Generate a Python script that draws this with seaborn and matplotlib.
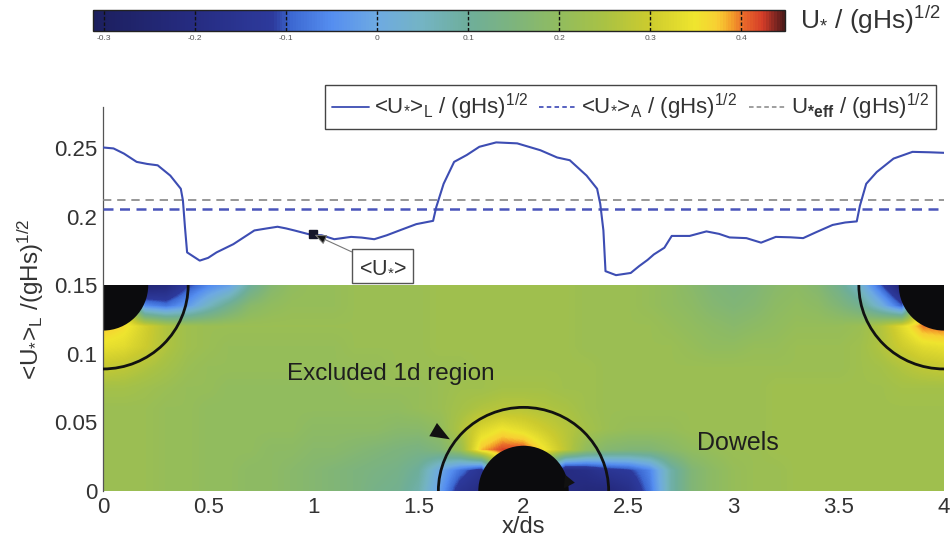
import numpy as np
import matplotlib
matplotlib.use('Agg')
import matplotlib.pyplot as plt
import seaborn as sns
from matplotlib.colors import LinearSegmentedColormap, Normalize
from matplotlib.patches import Ellipse, Rectangle
from matplotlib.lines import Line2D
from matplotlib.cm import ScalarMappable

# ---------------- data ----------------
x_line = [0.0, 0.05, 0.10, 0.16, 0.21, 0.26, 0.32, 0.37, 0.38, 0.39, 0.40, 0.46, 0.50,
          0.54, 0.58, 0.62, 0.67, 0.72, 0.78, 0.83, 0.87, 0.91, 0.99, 1.04, 1.10,
          1.18, 1.23, 1.29, 1.35, 1.41, 1.49, 1.57, 1.585, 1.62, 1.67, 1.73, 1.79,
          1.87, 1.97, 2.08, 2.16, 2.22, 2.30, 2.35, 2.365, 2.38, 2.39, 2.44, 2.51,
          2.55, 2.59, 2.62, 2.67, 2.705, 2.79, 2.87, 2.93, 2.98, 3.06, 3.13, 3.20,
          3.27, 3.33, 3.39, 3.47, 3.53, 3.585, 3.60, 3.63, 3.68, 3.76, 3.85, 3.93, 4.0]
u_line = [0.2505, 0.2498, 0.246, 0.240, 0.2385, 0.2375, 0.230, 0.2204, 0.212, 0.192,
          0.174, 0.168, 0.170, 0.174, 0.177, 0.180, 0.185, 0.190, 0.1915, 0.1927,
          0.1915, 0.190, 0.1868, 0.1865, 0.1836, 0.1853, 0.1848, 0.1836, 0.1865,
          0.190, 0.1946, 0.197, 0.207, 0.224, 0.240, 0.245, 0.251, 0.2542, 0.2535,
          0.2485, 0.2432, 0.2412, 0.230, 0.2204, 0.2094, 0.190, 0.1603, 0.1574,
          0.159, 0.164, 0.1685, 0.1725, 0.1774, 0.186, 0.186, 0.1893, 0.1875,
          0.1849, 0.1844, 0.1811, 0.1853, 0.1850, 0.1844, 0.1886, 0.194, 0.1958,
          0.1966, 0.208, 0.224, 0.2326, 0.2424, 0.2473, 0.2470, 0.2466]
ua_level = 0.2057      # <U*>_A
ueff_level = 0.2123    # U*eff
marker_x = [1.0]
marker_y = [0.1873]

# field U*/(gHs)^1/2 (x100), rows from y=0.15 (top) to y=0, columns x=0..4 step 0.1
field_rows = [
    [36, 30, -25, -22, -12, -6, -2, 10, 17, 20, 21, 21, 22, 22, 22, 22, 23, 23, 23, 23, 23, 23, 23, 22, 22, 22, 21, 20, 18, 16, 15, 16, 18, 19, 17, 12, 4, -10, -25, -10, 40],
    [38, 35, -5, -8, -3, 5, 12, 18, 20, 21, 21, 21, 22, 22, 22, 22, 23, 23, 23, 23, 23, 23, 23, 22, 22, 22, 21, 20, 19, 17, 16, 17, 19, 20, 19, 16, 12, 2, -10, 38, 41],
    [38, 36, 31, 26, 23, 22, 22, 22, 22, 22, 22, 22, 22, 22, 22, 22, 23, 23, 23, 23, 23, 23, 23, 22, 22, 22, 22, 21, 20, 19, 18, 19, 20, 21, 21, 21, 22, 26, 33, 40, 41],
    [34, 33, 30, 26, 23, 22, 21, 21, 21, 21, 21, 21, 22, 22, 22, 22, 23, 23, 23, 23, 23, 23, 23, 22, 22, 22, 22, 22, 21, 20, 20, 21, 21, 22, 22, 22, 23, 26, 30, 33, 34],
    [29, 28, 26, 24, 22, 21, 21, 21, 21, 21, 21, 21, 21, 21, 22, 22, 22, 22, 23, 23, 23, 23, 23, 23, 22, 22, 22, 22, 22, 22, 22, 22, 22, 22, 22, 22, 23, 24, 26, 28, 29],
    [24, 24, 23, 22, 21, 21, 20, 20, 20, 20, 20, 20, 21, 21, 21, 21, 22, 23, 23, 24, 24, 24, 23, 23, 22, 22, 22, 22, 22, 22, 22, 22, 23, 23, 23, 23, 23, 23, 24, 24, 24],
    [22, 22, 22, 21, 21, 20, 20, 20, 20, 20, 20, 20, 20, 20, 20, 21, 22, 24, 26, 27, 27, 26, 25, 23, 22, 22, 22, 22, 22, 22, 22, 22, 23, 23, 23, 23, 23, 23, 23, 23, 23],
    [22, 22, 22, 21, 21, 20, 20, 20, 20, 20, 19, 19, 19, 19, 18, 18, 20, 26, 32, 35, 33, 30, 27, 24, 22, 21, 21, 21, 22, 22, 22, 22, 23, 23, 23, 23, 23, 23, 23, 23, 23],
    [22, 22, 22, 21, 21, 20, 20, 20, 19, 19, 18, 18, 17, 16, 15, 14, 16, 22, 38, 42, 42, 35, 28, 20, 17, 16, 16, 18, 20, 21, 22, 22, 23, 23, 23, 23, 23, 23, 23, 23, 23],
    [22, 22, 22, 21, 21, 20, 20, 19, 19, 18, 17, 16, 15, 14, 13, 10, 0, -8, -15, 30, 30, 10, -20, -18, -14, -12, -6, 8, 16, 19, 21, 22, 22, 23, 23, 23, 23, 23, 23, 23, 23],
    [22, 22, 22, 21, 21, 20, 20, 19, 19, 18, 17, 16, 15, 13, 12, 8, -2, -15, -20, 0, 0, -10, -20, -22, -22, -18, -8, 8, 16, 19, 21, 22, 22, 23, 23, 23, 23, 23, 23, 23, 23],
]
field_x_range = [0.0, 4.0]
field_y_range = [0.0, 0.15]

dowel_x = [0.0, 2.0, 4.0]
dowel_y = [0.15, 0.0, 0.15]
dowel_rx, dowel_ry = 0.215, 0.033
excl_rx, excl_ry = 0.405, 0.061

x_ticks = [0, 0.5, 1, 1.5, 2, 2.5, 3, 3.5, 4]
x_ticklabels = ['0', '0.5', '1', '1.5', '2', '2.5', '3', '3.5', '4']
y_ticks = [0, 0.05, 0.1, 0.15, 0.2, 0.25]
y_ticklabels = ['0', '0.05', '0.1', '0.15', '0.2', '0.25']

cbar_min, cbar_max = -0.312, 0.448
cbar_ticks = [-0.3, -0.2, -0.1, 0, 0.1, 0.2, 0.3, 0.4]
cbar_ticklabels = ['-0.3', '-0.2', '-0.1', '0', '0.1', '0.2', '0.3', '0.4']
cmap_stops = [-0.312, -0.2, -0.115, -0.095, -0.05, 0.0, 0.05, 0.1, 0.15, 0.2, 0.25,
              0.3, 0.35, 0.375, 0.39, 0.405, 0.425, 0.44, 0.448]
cmap_colors = ['#1c1f5e', '#262c82', '#2d3a9c', '#3c68d2', '#558ef0', '#6eaae2',
               '#74b4c3', '#6eae9b', '#7db47d', '#91bc5f', '#a9c244', '#cccb2e',
               '#efe52e', '#f8cf33', '#f3a02a', '#e8672a', '#d43c28', '#7a2420',
               '#501a18']

# ---------------- style ----------------
sns.set_theme(style='white')
plt.rcParams.update({
    'font.family': ['Liberation Sans', 'DejaVu Sans'],
    'mathtext.fontset': 'custom',
    'mathtext.rm': 'Liberation Sans',
    'mathtext.it': 'Liberation Sans:italic',
    'mathtext.bf': 'Liberation Sans:bold',
    'axes.unicode_minus': False,
})
text_col = '#333333'

fig = plt.figure(figsize=(9.52, 5.46), dpi=100)
ax = fig.add_axes([0.1082, 0.1007, 0.8834, 0.7033])

norm = Normalize(cbar_min, cbar_max)
cmap = LinearSegmentedColormap.from_list(
    'uscale', list(zip([norm(v) for v in cmap_stops], cmap_colors)))

# ---------------- field image ----------------
Z = np.array(field_rows, dtype=float) / 100.0
ny, nx = Z.shape
dx = (field_x_range[1] - field_x_range[0]) / (nx - 1)
dy = (field_y_range[1] - field_y_range[0]) / (ny - 1)
clip_rect = Rectangle((field_x_range[0], field_y_range[0]),
                      field_x_range[1] - field_x_range[0],
                      field_y_range[1] - field_y_range[0],
                      transform=ax.transData, fill=False)
im = ax.imshow(Z, cmap=cmap, norm=norm, origin='upper', aspect='auto',
               interpolation='bilinear', zorder=1,
               extent=(field_x_range[0] - dx / 2, field_x_range[1] + dx / 2,
                       field_y_range[0] - dy / 2, field_y_range[1] + dy / 2))
im.set_clip_path(clip_rect)

for cx, cy in zip(dowel_x, dowel_y):
    d = Ellipse((cx, cy), 2 * dowel_rx, 2 * dowel_ry, facecolor='#0b0b0d',
                edgecolor='none', zorder=2)
    ax.add_patch(d)
    d.set_clip_path(clip_rect)
    e = Ellipse((cx, cy), 2 * excl_rx, 2 * excl_ry, facecolor='none',
                edgecolor='#111111', lw=2.0, zorder=3)
    ax.add_patch(e)
    e.set_clip_path(clip_rect)

# ---------------- line plot ----------------
line_col = '#3d4db3'
sns.lineplot(x=x_line, y=u_line, ax=ax, color=line_col, lw=1.5, sort=False,
             estimator=None, zorder=4, legend=False)
ax.axhline(ua_level, color='#4a55bb', lw=1.8, dashes=(4, 2.6), zorder=3)
ax.axhline(ueff_level, color='#858585', lw=1.2, dashes=(5, 3.5), zorder=3)
ax.plot(marker_x, marker_y, 's', color='#15152a', ms=6, zorder=5)

ax.annotate(r'<U$_{*}$>', xy=(marker_x[0], marker_y[0]), xytext=(1.33, 0.164),
            ha='center', va='center', fontsize=15.5, color=text_col, zorder=6,
            bbox=dict(boxstyle='square,pad=0.3', fc='white', ec='#555555', lw=1),
            arrowprops=dict(arrowstyle='-|>,head_length=0.6,head_width=0.25',
                            fc='#111111', ec='#777777', lw=0.8,
                            shrinkA=0, shrinkB=1, mutation_scale=12))

ax.text(0.875, 0.085, 'Excluded 1d region', fontsize=17.5, color='#1e1e1e',
        va='center', ha='left', zorder=6)
ax.annotate('', xy=(1.658, 0.037), xytext=(1.41, 0.059), zorder=6,
            arrowprops=dict(arrowstyle='-|>,head_length=1.4,head_width=0.55',
                            fc='#111111', ec='none', mutation_scale=10,
                            shrinkA=0, shrinkB=0))
ax.text(2.825, 0.035, 'Dowels', fontsize=18, color='#1e1e1e',
        va='center', ha='left', zorder=6)
ax.annotate('', xy=(2.25, 0.006), xytext=(2.12, 0.008), zorder=6,
            arrowprops=dict(arrowstyle='-|>,head_length=0.75,head_width=0.5',
                            fc='#111111', ec='none', mutation_scale=10,
                            shrinkA=0, shrinkB=0))

# ---------------- axes ----------------
ax.set_xlim(0, 4)
ax.set_ylim(0, 0.28)
ax.set_xticks(x_ticks)
ax.set_xticklabels(x_ticklabels)
ax.set_yticks(y_ticks)
ax.set_yticklabels(y_ticklabels)
ax.tick_params(axis='y', direction='in', length=5, width=0.8, color='#555555',
               labelsize=16, labelcolor=text_col, pad=4)
ax.tick_params(axis='x', length=0, labelsize=16, labelcolor=text_col, pad=4)
for s in ['top', 'right', 'bottom']:
    ax.spines[s].set_visible(False)
ax.spines['left'].set_color('#555555')
ax.spines['left'].set_linewidth(0.9)
ax.set_xlabel('x/ds', fontsize=17, color=text_col, labelpad=-1)
ax.set_ylabel(r'<U$_{*}$>$_{\rm L}$ /(gHs)$^{\rm 1/2}$', fontsize=17.5,
              color=text_col, labelpad=6)

handles = [Line2D([], [], color=line_col, lw=1.3),
           Line2D([], [], color='#4a55bb', lw=1.3, dashes=(2.5, 1.8)),
           Line2D([], [], color='#858585', lw=1.1, dashes=(3, 2))]
labels = [r'<U$_{*}$>$_{\rm L}$ / (gHs)$^{\rm 1/2}$',
          r'<U$_{*}$>$_{\rm A}$ / (gHs)$^{\rm 1/2}$',
          r'U$_{\mathbf{*eff}}$ / (gHs)$^{\rm 1/2}$']
leg = ax.legend(handles, labels, loc='center', bbox_to_anchor=(0.662, 0.804),
                bbox_transform=fig.transFigure, ncol=3, frameon=True,
                fancybox=False, edgecolor='#444444', framealpha=1,
                handlelength=1.7, handletextpad=0.2, columnspacing=0.5,
                borderpad=0.3, fontsize=16)
leg.get_frame().set_linewidth(1.0)
for t in leg.get_texts():
    t.set_color(text_col)

# ---------------- colorbar ----------------
cax = fig.add_axes([93 / 952, 1 - 31 / 546, (785 - 93) / 952, 21 / 546])
cb = fig.colorbar(ScalarMappable(norm=norm, cmap=cmap), cax=cax,
                  orientation='horizontal')
cb.set_ticks(cbar_ticks)
cb.set_ticklabels(cbar_ticklabels)
cax.tick_params(length=0, labelsize=6, labelcolor='#555555', pad=3)
cb.outline.set_edgecolor('#222222')
cb.outline.set_linewidth(1.0)
for t in cbar_ticks:
    cax.axvline(t, color='#111111', lw=1.0, ls=(0, (2.5, 1.5)))
fig.text(800 / 952, 1 - 20 / 546, r'U$_{*}$ / (gHs)$^{\rm 1/2}$', fontsize=19,
         color=text_col, ha='left', va='center')

fig.savefig('out.png', dpi=100)
